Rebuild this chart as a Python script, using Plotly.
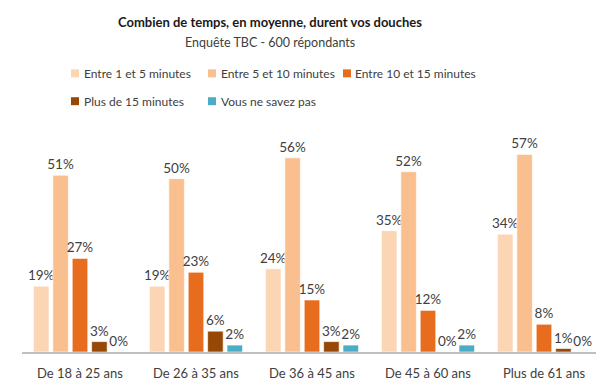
import plotly.graph_objects as go

categories = ["De 18 à 25 ans", "De 26 à 35 ans", "De 36 à 45 ans", "De 45 à 60 ans", "Plus de 61 ans"]
series_names = ["Entre 1 et 5 minutes", "Entre 5 et 10 minutes", "Entre 10 et 15 minutes",
                "Plus de 15 minutes", "Vous ne savez pas"]
entre_1_5 = [0.19, 0.19, 0.24, 0.35, 0.34]
entre_5_10 = [0.51, 0.50, 0.56, 0.52, 0.57]
entre_10_15 = [0.27, 0.23, 0.15, 0.12, 0.08]
plus_15 = [0.03, 0.06, 0.03, 0.00, 0.01]
ne_sait_pas = [0.00, 0.02, 0.02, 0.02, 0.00]
series_values = [entre_1_5, entre_5_10, entre_10_15, plus_15, ne_sait_pas]
colors = ["#FCD5B5", "#FABF8F", "#E86C1E", "#974806", "#4BACC6"]

# the page body has an 8px margin; work in window pixels and shift
OFF = 8
WIN_W, WIN_H = 604, 392
W, H = WIN_W - OFF, WIN_H - OFF
PLOT_L, PLOT_R, PLOT_T, PLOT_B = 22, 602, 143.5, 352.5
ML, MR = PLOT_L - OFF, WIN_W - PLOT_R
MT, MB = PLOT_T - OFF, WIN_H - PLOT_B
PW, PH = PLOT_R - PLOT_L, PLOT_B - PLOT_T
FONT = "Lato"
TXT = "#404040"


def px(x):
    return (x - PLOT_L) / PW


def py(y):
    return (PLOT_B - y) / PH


fig = go.Figure()
for name, vals, col in zip(series_names, series_values, colors):
    fig.add_trace(go.Bar(
        x=categories, y=vals, name=name,
        marker=dict(color=col, line=dict(color="white", width=0.6)),
        texttemplate="%{y:.0%}", textposition="outside", constraintext="none",
        textfont=dict(family=FONT, size=13.5, color=TXT),
        cliponaxis=False, showlegend=False,
    ))

# manual legend (positions are layout, in window pixels)
legend_pos = [(71, 72.5), (208, 72.5), (343, 72.5), (71, 100.5), (208, 100.5)]
shapes = []
annotations = []
for (lx, ly), name, col in zip(legend_pos, series_names, colors):
    shapes.append(dict(type="rect", xref="paper", yref="paper",
                       x0=px(lx), x1=px(lx + 8), y0=py(ly + 4), y1=py(ly - 4),
                       fillcolor=col, line=dict(width=0)))
    annotations.append(dict(text=name, xref="paper", yref="paper",
                            x=px(lx + 10.5), y=py(ly), xanchor="left", yanchor="middle",
                            showarrow=False, font=dict(family=FONT, size=12, color=TXT)))

annotations.append(dict(text="<b>Combien de temps, en moyenne, durent vos douches</b>",
                        xref="paper", yref="paper", x=px(270), y=py(21),
                        xanchor="center", yanchor="middle", showarrow=False,
                        font=dict(family=FONT, size=13, color="#1A1A1A")))
annotations.append(dict(text="Enquête TBC - 600 répondants",
                        xref="paper", yref="paper", x=px(270), y=py(42),
                        xanchor="center", yanchor="middle", showarrow=False,
                        font=dict(family=FONT, size=12.5, color=TXT)))

fig.update_layout(
    width=W, height=H,
    margin=dict(l=ML, r=MR, t=MT, b=MB, pad=0),
    paper_bgcolor="white", plot_bgcolor="white",
    barmode="group", bargap=0.164, bargroupgap=0.2,
    showlegend=False,
    shapes=shapes, annotations=annotations,
    font=dict(family=FONT, color=TXT),
    xaxis=dict(showline=True, linecolor="#BFBFBF", linewidth=1.5, ticks="",
               showgrid=False, ticklabelstandoff=9,
               tickfont=dict(family=FONT, size=13, color=TXT)),
    yaxis=dict(range=[0, 0.6], visible=False, showgrid=False),
)

fig.write_html("out.html")
